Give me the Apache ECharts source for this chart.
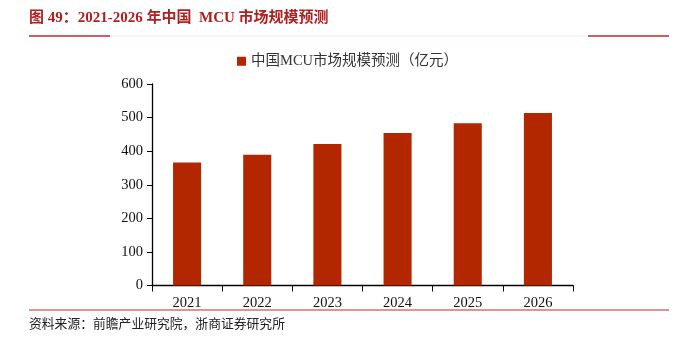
<!DOCTYPE html>
<html><head><meta charset="utf-8">
<script src="https://cdn.jsdelivr.net/npm/echarts@6/dist/echarts.min.js"></script>
<style>html,body{margin:0;padding:0;background:#fff}#c{width:674px;height:343px}</style>
</head><body><div id="c"></div>
<script>
const categories = ['2021','2022','2023','2024','2025','2026'];
const marketSize = [366, 389, 421, 454, 483, 514];
const seriesName = '中国MCU市场规模预测（亿元）';
const titleText = '图 49：2021-2026 年中国  MCU 市场规模预测';
const sourceText = '资料来源：前瞻产业研究院，浙商证券研究所';

const chart = echarts.init(document.getElementById('c'), null, {renderer:'canvas'});
chart.setOption({
  animation: false,
  backgroundColor: '#fff',
  graphic: [
    {type:'text', left: 29, top: 11, style:{text: titleText, fill:'#B01F1F', font:'bold 15px "Liberation Serif","Noto Sans CJK SC", serif'}},
    {type:'line', shape:{x1:29,y1:36,x2:110,y2:36}, style:{stroke:'#C0282B', lineWidth:1.5}},
    {type:'line', shape:{x1:110,y1:36,x2:588,y2:36}, style:{stroke:'#F5E6EA', lineWidth:1}},
    {type:'line', shape:{x1:588,y1:36,x2:669,y2:36}, style:{stroke:'#C0282B', lineWidth:1.5}},
    {type:'line', shape:{x1:29,y1:310,x2:669,y2:310}, style:{stroke:'#C0282B', lineWidth:1}},
    {type:'text', left: 29, top: 317, style:{text: sourceText, fill:'#222', font:'12.8px "Noto Sans CJK SC", sans-serif'}}
  ],
  legend: {
    top: 49, left: 232, itemWidth: 9, itemHeight: 9, icon: 'rect', itemGap: 10,
    textStyle: {fontSize: 14.5, color: '#333', fontFamily: '"Liberation Serif","Noto Sans CJK SC", serif'},
    data: [seriesName]
  },
  grid: {left: 152, right: 101, top: 84, bottom: 57.5, containLabel: false},
  xAxis: {
    type: 'category', data: categories,
    axisLine: {lineStyle: {color: '#000', width: 1.3}},
    axisTick: {show: true, length: 6, lineStyle:{color:'#000'}},
    axisLabel: {color: '#111', fontSize: 14.5, margin: 10, fontFamily: '"Liberation Serif", serif'}
  },
  yAxis: {
    type: 'value', min: 0, max: 600, interval: 100,
    axisLine: {show: true, lineStyle: {color: '#000', width: 1.3}},
    axisTick: {show: true, length: 5, lineStyle:{color:'#000'}},
    splitLine: {show: false},
    axisLabel: {color: '#111', fontSize: 14.5, margin: 9, fontFamily: '"Liberation Serif", serif'}
  },
  series: [{
    name: seriesName, type: 'bar', data: marketSize, barWidth: '40%',
    itemStyle: {color: '#B22600'}
  }]
});
</script></body></html>
